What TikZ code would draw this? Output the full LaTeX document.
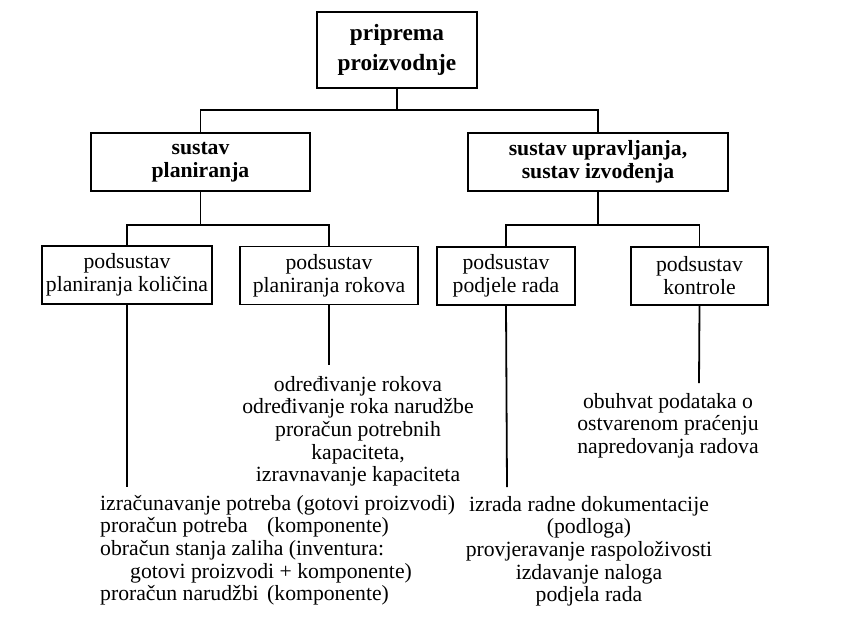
\documentclass[tikz,border=0pt]{standalone}
\usepackage{fontspec}
\setmainfont{Liberation Serif}

\tikzset{
  sysbox/.style={draw, line width=1.8pt, inner sep=0pt, align=center, minimum height=58pt,
    font=\bfseries\fontsize{21.7}{23}\selectfont},
  subbox/.style={draw, line width=1.8pt, inner sep=0pt, align=center, minimum height=58pt,
    font=\fontsize{21.7}{23}\selectfont},
  tasks/.style={inner sep=0pt, align=center, font=\fontsize{21.7}{22.6}\selectfont},
  link/.style={line width=1.8pt}
}

\begin{document}
\begin{tikzpicture}[x=1pt,y=-1pt]
            \useasboundingbox (0,0) rectangle (861,630);

            % top
            \node[sysbox, minimum width=160pt, minimum height=76pt,
                  font=\bfseries\fontsize{23.3}{30}\selectfont] (pp) at (397,50) {priprema\\proizvodnje};

            % systems
            \node[sysbox, minimum width=219pt] (plan) at (200.5,162) {sustav\\planiranja};
            \node[sysbox, minimum width=260pt] (upr) at (598,162) {sustav upravljanja,\\sustav izvođenja};

            % subsystems
            \node[subbox, minimum width=170pt] (kol) at (127,275) {podsustav\\planiranja količina};
            \node[subbox, minimum width=178pt] (rok) at (329,275.5) {podsustav\\planiranja rokova};
            \node[subbox, minimum width=138pt] (pod) at (506,276) {podsustav\\podjele rada};
            \node[subbox, minimum width=137pt] (kon) at (699.5,276) {podsustav\\kontrole};

            \draw[link] (pp.south) -- ++(0,21) -| (plan.north);
            \draw[link] (pp.south) -- ++(0,21) -| (upr.north);
            \draw[link] (plan.south) -- ++(0,33) -| (kol.north);
            \draw[link] (plan.south) -- ++(0,33) -| (rok.north);
            \draw[link] (upr.south) -- ++(0,33) -| (pod.north);
            \draw[link] (upr.south) -- ++(0,33) -| (kon.north);

            % tasks
            \node[tasks, align=left, anchor=north west] (kolt) at (100,495)
              {izračunavanje potreba (gotovi proizvodi)\\
               \makebox[167pt][l]{proračun potreba}(komponente)\\
               obračun stanja zaliha (inventura:\\
               \hspace*{30pt}gotovi proizvodi + komponente)\\
               \makebox[167pt][l]{proračun narudžbi}(komponente)};
            \node[tasks, anchor=north] (rokt) at (358,376)
              {određivanje rokova\\određivanje roka narudžbe\\proračun potrebnih\\kapaciteta,\\izravnavanje kapaciteta};
            \node[tasks, anchor=north] (podt) at (589,496)
              {izrada radne dokumentacije\\(podloga)\\provjeravanje raspoloživosti\\izdavanje naloga\\podjela rada};
            \node[tasks, anchor=north] (kont) at (668,393)
              {obuhvat podataka o\\ostvarenom praćenju\\napredovanja radova};

            \coordinate (kolend) at (127,487);
            \coordinate (rokend) at (329,365);
            \coordinate (podend) at (507,487);
            \coordinate (konend) at (699,383);
            \draw[link] (kol.south) -- (kolend);
            \draw[link] (rok.south) -- (rokend);
            \draw[link] (pod.south) -- (podend);
            \draw[link] (kon.south) -- (konend);
\end{tikzpicture}
\end{document}
